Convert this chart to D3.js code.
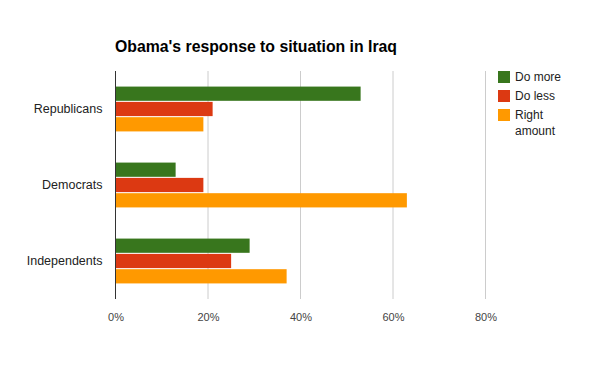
<!DOCTYPE html>
<html>
<head>
<meta charset="utf-8">
<script src="https://cdn.jsdelivr.net/npm/d3@7"></script>
<style>
  body { margin: 0; background: #fff; }
  svg { font-family: Arial, "Liberation Sans", sans-serif; }
</style>
</head>
<body>
<div class="chart"></div>
<script>
const categories = ["Republicans", "Democrats", "Independents"];
const seriesNames = ["Do more", "Do less", "Right amount"];
const doMore = [53, 13, 29];
const doLess = [21, 19, 25];
const rightAmount = [19, 63, 37];
const xTicks = [0, 20, 40, 60, 80];
const colors = ["#38761d", "#dc3912", "#ff9900"];

const values = [doMore, doLess, rightAmount];
const data = categories.map((c, i) => ({
  cat: c,
  vals: seriesNames.map((s, j) => ({ key: s, value: values[j][i] }))
}));

const width = 600, height = 371;
const plot = { left: 115.5, right: 485.5, top: 71, bottom: 299 };

let svg = d3.select(".chart").append("svg")
  .attr("width", width)
  .attr("height", height);

let x = d3.scaleLinear().domain([0, 80]).range([plot.left, plot.right]);
let y = d3.scaleBand().domain(categories).range([plot.top, plot.bottom])
  .paddingInner(0.41).paddingOuter(0.205);
let y1 = d3.scaleBand().domain(seriesNames).range([0, y.bandwidth()]).paddingInner(0.07);
let color = d3.scaleOrdinal().domain(seriesNames).range(colors);

// gridlines
svg.append("g")
  .selectAll("line")
  .data(xTicks.filter(d => d > 0))
  .enter().append("line")
    .attr("x1", d => x(d)).attr("x2", d => x(d))
    .attr("y1", plot.top).attr("y2", plot.bottom)
    .attr("stroke", "#cccccc");

// bars
svg.append("g")
  .selectAll("g")
  .data(data)
  .enter().append("g")
    .attr("transform", d => "translate(0," + y(d.cat) + ")")
  .selectAll("rect")
  .data(d => d.vals)
  .enter().append("rect")
    .attr("x", x(0))
    .attr("y", d => y1(d.key))
    .attr("width", d => x(d.value) - x(0))
    .attr("height", y1.bandwidth())
    .attr("fill", d => color(d.key));

// baseline
svg.append("line")
  .attr("x1", x(0)).attr("x2", x(0))
  .attr("y1", plot.top).attr("y2", plot.bottom)
  .attr("stroke", "#333333");

// x axis labels
let xAxis = svg.append("g")
  .attr("transform", "translate(0," + plot.bottom + ")")
  .call(d3.axisBottom(x).tickValues(xTicks).tickFormat(d => d + "%").tickSize(0).tickPadding(14));
xAxis.select(".domain").remove();
xAxis.selectAll("text").attr("fill", "#444").style("font-size", "11px");

// y axis labels
let yAxis = svg.append("g")
  .attr("transform", "translate(" + (plot.left - 13) + ",0)")
  .call(d3.axisLeft(y).tickSize(0).tickPadding(0));
yAxis.select(".domain").remove();
yAxis.selectAll("text").attr("fill", "#222").style("font-size", "12.5px");

// title
svg.append("text")
  .attr("x", 115)
  .attr("y", 52)
  .style("font-size", "15.8px")
  .style("font-weight", "bold")
  .attr("fill", "#000")
  .text("Obama's response to situation in Iraq");

// legend
let legend = svg.append("g").attr("transform", "translate(498,71)");
let items = legend.selectAll("g")
  .data(seriesNames)
  .enter().append("g")
    .attr("transform", (d, i) => "translate(0," + i * 19 + ")");
items.append("rect")
  .attr("width", 12).attr("height", 12)
  .attr("fill", d => color(d));
items.append("text")
  .attr("x", 17)
  .attr("y", 10)
  .style("font-size", "12px")
  .attr("fill", "#222")
  .each(function(d) {
    let words = d === "Right amount" ? ["Right", "amount"] : [d];
    d3.select(this).selectAll("tspan")
      .data(words)
      .enter().append("tspan")
        .attr("x", 17)
        .attr("dy", (w, i) => i === 0 ? 0 : 16)
        .text(w => w);
  });
</script>
</body>
</html>
